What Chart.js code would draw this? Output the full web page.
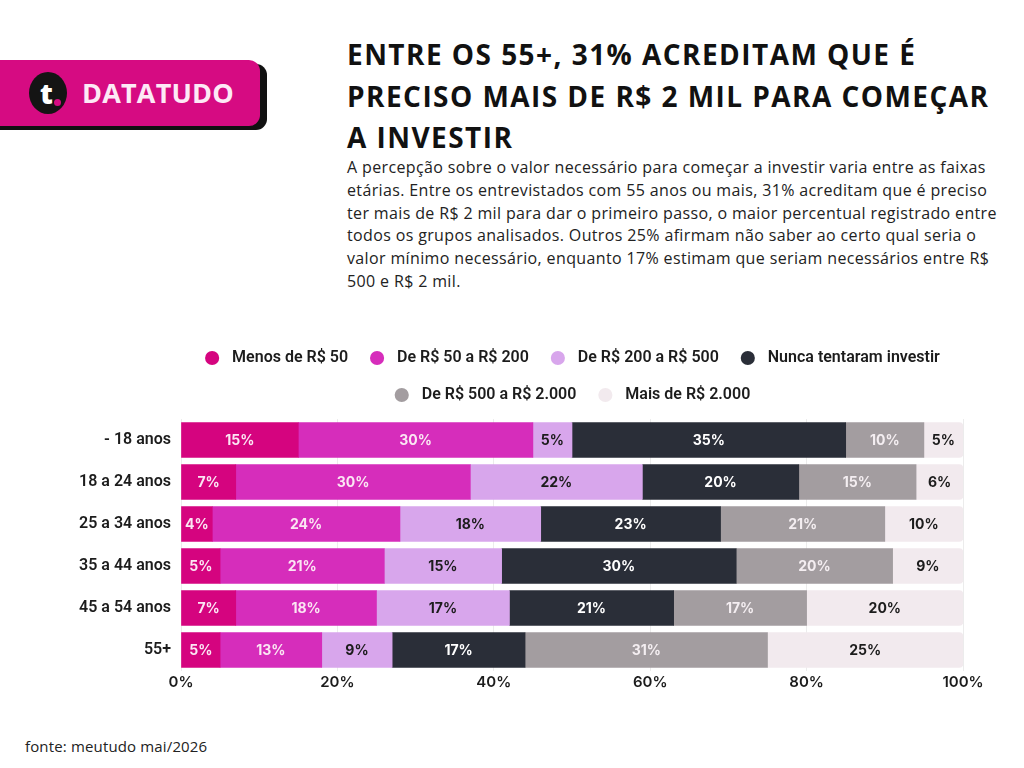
<!DOCTYPE html>
<html lang="pt-BR">
<head>
<meta charset="utf-8">
<script src="https://cdn.jsdelivr.net/npm/chart.js@4.4.1/dist/chart.umd.min.js"></script>
<style>
  body { margin: 0; width: 1024px; height: 768px; background: #fff; position: relative; overflow: hidden; font-family: "Open Sans", sans-serif; color: #1d1d1d; }
  .logo-sombra { position: absolute; left: -12px; top: 64px; width: 279px; height: 66px; background: #111; border-radius: 11px; }
  .logo { position: absolute; left: -12px; top: 60px; width: 272px; height: 66px; background: #d60b82; border-radius: 11px; }
  .logo .bola { position: absolute; left: 41px; top: 12px; width: 38px; height: 42px; background: #141414; border-radius: 50%; }
  .logo .bola span { position: absolute; left: 11px; top: 2px; color: #fff; font: 800 28px "Open Sans", sans-serif; }
  .logo .bola i { position: absolute; left: 25px; top: 27px; width: 7px; height: 7px; border-radius: 50%; background: #d60b82; }
  .logo .nome { position: absolute; left: 94px; top: 14px; color: #fde9f6; font: 700 27px "Open Sans", sans-serif; letter-spacing: 0.2px; }
  .titulo { position: absolute; left: 347px; top: 34px; margin: 0; font: 700 28px/41.5px "Open Sans", sans-serif; letter-spacing: 1.45px; color: #111; white-space: nowrap; }
  .sub { position: absolute; left: 347px; top: 156px; margin: 0; font: 400 16px/22.8px "Open Sans", sans-serif; letter-spacing: 0.36px; color: #222; white-space: nowrap; }
  .grafico { position: absolute; left: 0; top: 317px; width: 1024px; height: 376px; }
  .fonte { position: absolute; left: 25px; top: 736px; font: 400 15px "Open Sans", sans-serif; letter-spacing: 0.15px; color: #222; }
</style>
</head>
<body>
<div class="logo-sombra"></div>
<div class="logo"><div class="bola"><span>t</span><i></i></div><div class="nome">DATATUDO</div></div>
<h1 class="titulo">ENTRE OS 55+, 31% ACREDITAM QUE É<br>PRECISO MAIS DE R$ 2 MIL PARA COMEÇAR<br>A INVESTIR</h1>
<p class="sub">A percepção sobre o valor necessário para começar a investir varia entre as faixas<br>etárias. Entre os entrevistados com 55 anos ou mais, 31% acreditam que é preciso<br>ter mais de R$ 2 mil para dar o primeiro passo, o maior percentual registrado entre<br>todos os grupos analisados. Outros 25% afirmam não saber ao certo qual seria o<br>valor mínimo necessário, enquanto 17% estimam que seriam necessários entre R$<br>500 e R$ 2 mil.</p>
<div class="grafico"><canvas id="chart" width="1024" height="376"></canvas></div>
<div class="fonte">fonte: meutudo mai/2026</div>
<script>
const faixas = ['- 18 anos', '18 a 24 anos', '25 a 34 anos', '35 a 44 anos', '45 a 54 anos', '55+'];
const series = ['Menos de R$ 50', 'De R$ 50 a R$ 200', 'De R$ 200 a R$ 500', 'Nunca tentaram investir', 'De R$ 500 a R$ 2.000', 'Mais de R$ 2.000'];
const menos50 = [15, 7, 4, 5, 7, 5];
const de50a200 = [30, 30, 24, 21, 18, 13];
const de200a500 = [5, 22, 18, 15, 17, 9];
const nunca = [35, 20, 23, 30, 21, 17];
const de500a2000 = [10, 15, 21, 20, 17, 31];
const mais2000 = [5, 6, 10, 9, 20, 25];
const ticksX = [0, 20, 40, 60, 80, 100];

const cores = ['#d5047f', '#d62dbb', '#d8a6ec', '#2a2e38', '#a39da0', '#f2eaee'];
const corTexto = ['#fbe6f3', '#fbe6f3', '#1c1c1c', '#ffffff', '#f4eef1', '#1c1c1c'];
const valores = [menos50, de50a200, de200a500, nunca, de500a2000, mais2000];

// escreve o % no meio de cada pedaço
const rotulos = {
    id: 'rotulos',
    afterDatasetsDraw(chart) {
        const ctx = chart.ctx;
        ctx.save();
        ctx.font = '700 14px Inter';
        ctx.textAlign = 'center';
        ctx.textBaseline = 'middle';
        chart.data.datasets.forEach((ds, i) => {
            const meta = chart.getDatasetMeta(i);
            meta.data.forEach((bar, j) => {
                ctx.fillStyle = corTexto[i];
                ctx.fillText(ds.data[j] + '%', (bar.x + bar.base) / 2, bar.y + 1);
            });
        });
        ctx.restore();
    }
};

// legenda um pouco mais larga (4 itens na 1a linha) e espaço antes das barras
const espacoLegenda = {
    id: 'espacoLegenda',
    beforeInit(chart) {
        const legend = chart.legend;
        const fit = legend.fit;
        const draw = legend.draw;
        legend.fit = function () {
            this.maxWidth = Math.max(this.maxWidth, 830);
            fit.call(this);
            this.height += 6;
        };
        legend.draw = function () {
            const l = this.left, r = this.right;
            this.left -= 40;
            this.right += 40;
            draw.call(this);
            this.left = l;
            this.right = r;
        };
    }
};

const datasets = valores.map((v, i) => ({
    label: series[i],
    data: v,
    backgroundColor: cores[i],
    borderWidth: 0,
    barThickness: 35,
    borderRadius: i === 5 ? { topLeft: 0, bottomLeft: 0, topRight: 4, bottomRight: 4 } : 0,
    borderSkipped: false
}));

new Chart(document.getElementById('chart'), {
    type: 'bar',
    data: { labels: faixas, datasets: datasets },
    options: {
        indexAxis: 'y',
        responsive: false,
        animation: false,
        layout: { padding: { left: 0, right: 61, top: 12, bottom: 0 } },
        scales: {
            x: {
                stacked: true,
                min: 0,
                max: 100,
                afterBuildTicks: (axis) => { axis.ticks = ticksX.map(v => ({ value: v })); },
                grid: { color: '#ececec', drawTicks: false },
                border: { display: false },
                ticks: {
                    padding: 2,
                    color: '#1c1c1c',
                    font: { family: 'Inter', size: 15, weight: '600' },
                    callback: (v) => v + '%'
                }
            },
            y: {
                stacked: true,
                afterFit: (axis) => { axis.width = 181; },
                grid: { display: false, drawTicks: false },
                border: { display: false },
                ticks: {
                    padding: 10,
                    color: '#1c1c1c',
                    font: { family: 'Roboto', size: 16, weight: '600' }
                }
            }
        },
        plugins: {
            legend: {
                position: 'top',
                fullSize: false,
                labels: {
                    usePointStyle: true,
                    pointStyle: 'circle',
                    boxWidth: 16,
                    boxHeight: 10,
                    padding: 21,
                    color: '#1c1c1c',
                    font: { family: 'Roboto', size: 16, weight: '600' },
                    generateLabels: (chart) => Chart.defaults.plugins.legend.labels.generateLabels(chart)
                        .map(item => ({ ...item, text: ' ' + item.text }))
                }
            },
            tooltip: { enabled: false }
        }
    },
    plugins: [rotulos, espacoLegenda]
});
</script>
</body>
</html>
